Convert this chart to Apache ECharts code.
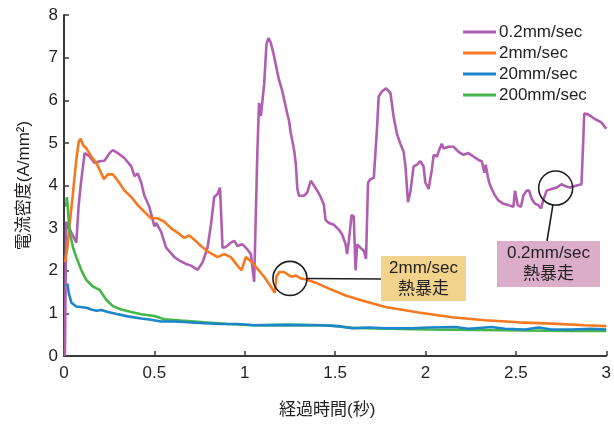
<!DOCTYPE html>
<html>
<head>
<meta charset="utf-8">
<script src="https://cdn.jsdelivr.net/npm/echarts@6/dist/echarts.min.js"></script>
<style>
  html, body { margin: 0; padding: 0; background: #fff; }
  #chart { width: 614px; height: 424px; }
</style>
</head>
<body>
<div id="chart"></div>
<script>
// 電流密度 vs 経過時間, [秒, A/mm2]
var seriesNames = ["0.2mm/sec", "2mm/sec", "20mm/sec", "200mm/sec"];

var speed02 = [
  [0.005, 0], [0.012, 3.15], [0.04, 2.9], [0.068, 2.66], [0.081, 3.53], [0.092, 3.99],
  [0.114, 4.76], [0.124, 4.8], [0.142, 4.68], [0.169, 4.53], [0.197, 4.57], [0.224, 4.58],
  [0.252, 4.76], [0.27, 4.83], [0.298, 4.76], [0.335, 4.64], [0.372, 4.45], [0.39, 4.22],
  [0.408, 4.28], [0.427, 4.07], [0.445, 3.76], [0.472, 3.5], [0.5, 3.04], [0.51, 3.12],
  [0.537, 2.92], [0.565, 2.54], [0.611, 2.32], [0.639, 2.24], [0.656, 2.2], [0.675, 2.16],
  [0.703, 2.12], [0.739, 2.02], [0.767, 2.2], [0.794, 2.54], [0.813, 3.08], [0.831, 3.73],
  [0.849, 3.8], [0.863, 3.95], [0.868, 3.46], [0.877, 2.54], [0.896, 2.56], [0.923, 2.66],
  [0.942, 2.7], [0.96, 2.58], [0.987, 2.62], [1.015, 2.5], [1.034, 2.39], [1.052, 1.74],
  [1.07, 4.83], [1.079, 5.94], [1.089, 5.63], [1.098, 5.67], [1.107, 6.36], [1.12, 7.31],
  [1.131, 7.46], [1.144, 7.35], [1.162, 7.04], [1.18, 6.66], [1.19, 6.47], [1.208, 6.21],
  [1.236, 5.67], [1.245, 5.52], [1.254, 5.25], [1.273, 4.83], [1.282, 4.53], [1.291, 3.92],
  [1.3, 3.76], [1.328, 3.76], [1.346, 3.84], [1.365, 4.11], [1.383, 4.0], [1.401, 3.88],
  [1.42, 3.73], [1.438, 3.54], [1.447, 3.19], [1.466, 3.12], [1.493, 3.08], [1.521, 2.96],
  [1.539, 2.85], [1.558, 2.62], [1.566, 2.39], [1.576, 2.7], [1.591, 3.31], [1.603, 3.27],
  [1.613, 2.01], [1.622, 2.62], [1.64, 2.54], [1.659, 2.47], [1.671, 2.28], [1.682, 4.07],
  [1.696, 4.15], [1.714, 4.18], [1.732, 5.37], [1.741, 6.09], [1.76, 6.21], [1.782, 6.28],
  [1.806, 6.17], [1.824, 5.6], [1.842, 5.21], [1.861, 4.98], [1.879, 4.79], [1.889, 4.45],
  [1.903, 3.61], [1.916, 3.84], [1.934, 4.45], [1.953, 4.49], [1.971, 4.57], [1.989, 4.45],
  [1.999, 4.07], [2.017, 3.92], [2.035, 4.37], [2.045, 4.72], [2.063, 4.68], [2.072, 4.79],
  [2.09, 4.98], [2.1, 4.87], [2.127, 4.91], [2.155, 4.91], [2.183, 4.79], [2.21, 4.72],
  [2.238, 4.76], [2.265, 4.68], [2.293, 4.6], [2.311, 4.57], [2.326, 4.3], [2.333, 4.49],
  [2.344, 4.22], [2.352, 4.07], [2.366, 3.92], [2.385, 3.76], [2.403, 3.65], [2.431, 3.57],
  [2.458, 3.54], [2.486, 3.5], [2.495, 3.88], [2.51, 3.54], [2.528, 3.5], [2.541, 3.76],
  [2.559, 3.88], [2.573, 3.88], [2.587, 3.69], [2.606, 3.57], [2.624, 3.54], [2.639, 3.46],
  [2.651, 3.65], [2.67, 3.88], [2.697, 3.92], [2.725, 3.95], [2.752, 4.03], [2.771, 3.99],
  [2.799, 3.95], [2.826, 3.99], [2.863, 4.03], [2.872, 4.98], [2.878, 5.69], [2.9, 5.67],
  [2.937, 5.56], [2.973, 5.48], [3.0, 5.33]
];

var speed2 = [
  [0.005, 2.2], [0.019, 2.54], [0.031, 3.08], [0.05, 3.84], [0.068, 4.6], [0.081, 5.02],
  [0.092, 5.1], [0.105, 4.95], [0.124, 4.87], [0.151, 4.68], [0.179, 4.53], [0.221, 4.15],
  [0.243, 4.26], [0.27, 4.26], [0.298, 4.11], [0.335, 3.88], [0.372, 3.73], [0.408, 3.54],
  [0.445, 3.38], [0.482, 3.23], [0.518, 3.23], [0.555, 3.15], [0.592, 3.0], [0.629, 2.89],
  [0.666, 2.77], [0.693, 2.83], [0.721, 2.73], [0.758, 2.58], [0.804, 2.43], [0.849, 2.32],
  [0.886, 2.39], [0.923, 2.32], [0.96, 2.12], [0.982, 2.01], [1.006, 2.32], [1.034, 2.22],
  [1.07, 2.05], [1.107, 1.86], [1.144, 1.63], [1.166, 1.48], [1.175, 1.86], [1.19, 1.97],
  [1.217, 1.97], [1.245, 1.89], [1.263, 1.86], [1.282, 1.89], [1.309, 1.82], [1.337, 1.8],
  [1.392, 1.72], [1.466, 1.58], [1.558, 1.42], [1.649, 1.3], [1.778, 1.15], [1.962, 1.02],
  [2.146, 0.91], [2.33, 0.84], [2.514, 0.79], [2.697, 0.76], [2.881, 0.72], [3.0, 0.7]
];

var speed20 = [
  [0.019, 1.7], [0.026, 1.48], [0.041, 1.25], [0.068, 1.16], [0.124, 1.13], [0.151, 1.09],
  [0.179, 1.06], [0.206, 1.08], [0.243, 1.03], [0.298, 0.98], [0.353, 0.93], [0.427, 0.88],
  [0.482, 0.85], [0.537, 0.81], [0.611, 0.81], [0.684, 0.79], [0.776, 0.77], [0.868, 0.75],
  [0.96, 0.75], [1.048, 0.72], [1.236, 0.73], [1.41, 0.72], [1.521, 0.7], [1.594, 0.65],
  [1.686, 0.67], [1.778, 0.65], [1.923, 0.65], [2.017, 0.67], [2.164, 0.68], [2.238, 0.64],
  [2.366, 0.68], [2.44, 0.64], [2.55, 0.62], [2.624, 0.67], [2.697, 0.62], [2.808, 0.62],
  [2.918, 0.64], [3.0, 0.62]
];

var speed200 = [
  [0.012, 3.5], [0.016, 3.73], [0.02, 3.54], [0.031, 2.92], [0.05, 2.54], [0.068, 2.32],
  [0.096, 2.01], [0.124, 1.78], [0.16, 1.63], [0.197, 1.55], [0.234, 1.32], [0.27, 1.17],
  [0.317, 1.09], [0.372, 1.03], [0.427, 0.98], [0.5, 0.94], [0.555, 0.86], [0.648, 0.83],
  [0.776, 0.79], [0.905, 0.75], [1.052, 0.72], [1.25, 0.73], [1.45, 0.72], [1.6, 0.66],
  [1.8, 0.64], [2.0, 0.62], [2.3, 0.61], [2.55, 0.6], [2.8, 0.59], [3.0, 0.59]
];

// 熱暴走 markers: circle centre (data coords) and callout text
var runawayAt = [[1.25, 1.82], [2.72, 3.94]];
var runawayText = ["2mm/sec\n熱暴走", "0.2mm/sec\n熱暴走"];

var colors = ["#b05eb0", "#f47920", "#1c86c9", "#45b649"];
var font = "'Liberation Sans', 'Noto Sans CJK JP', sans-serif";

var chart = echarts.init(document.getElementById("chart"));

function line(name, data, color, z) {
  return {
    name: name,
    type: "line",
    data: data,
    showSymbol: false,
    symbol: "none",
    z: z,
    lineStyle: { color: color, width: 2.6 },
    itemStyle: { color: color },
  };
}

var option = {
  animation: false,
  textStyle: { fontFamily: font },
  grid: { left: 64, right: 6, top: 15, bottom: 60 },
  legend: {
    orient: "vertical",
    left: 458,
    top: 18,
    icon: "rect",
    itemWidth: 33,
    itemHeight: 3,
    itemGap: 3,
    data: seriesNames,
    textStyle: { fontSize: 17, color: "#231f20", lineHeight: 18, padding: [0, 0, 0, -2] },
  },
  xAxis: {
    type: "value",
    min: 0,
    max: 3,
    interval: 0.5,
    name: "経過時間(秒)",
    nameLocation: "middle",
    nameGap: 46,
    nameTextStyle: { fontSize: 17, color: "#231f20", padding: [0, 16, 0, 0] },
    splitLine: { show: false },
    axisLine: { lineStyle: { color: "#3a3a3a", width: 2 } },
    axisTick: { inside: true, length: 5, lineStyle: { color: "#3a3a3a", width: 1.5 } },
    axisLabel: { fontSize: 17, color: "#231f20", margin: 9 },
  },
  yAxis: {
    type: "value",
    min: 0,
    max: 8,
    interval: 1,
    name: "電流密度(A/mm²)",
    nameLocation: "middle",
    nameGap: 31,
    nameTextStyle: { fontSize: 17, color: "#231f20", padding: [0, 0, 0, 0] },
    splitLine: { show: false },
    axisLine: { show: true, lineStyle: { color: "#3a3a3a", width: 2 } },
    axisTick: { show: true, inside: true, length: 5, lineStyle: { color: "#3a3a3a", width: 1.5 } },
    axisLabel: { fontSize: 17, color: "#231f20", margin: 6 },
  },
  series: [
    line(seriesNames[0], speed02, colors[0], 2),
    line(seriesNames[1], speed2, colors[1], 3),
    line(seriesNames[3], speed200, colors[3], 4),
    line(seriesNames[2], speed20, colors[2], 5),
  ],
};

chart.setOption(option);

// callouts: circle around the runaway point, leader line, coloured box
var boxes = [
  { x: 381, y: 256, w: 85, h: 45, fill: "#f2d38b" },
  { x: 497, y: 241, w: 103, h: 46, fill: "#dbadc9" },
];
var anchors = [
  [381, 279],
  [547, 241],
];
var r = 17;
var graphics = [];
runawayAt.forEach(function (pt, i) {
  var c = chart.convertToPixel({ gridIndex: 0 }, pt);
  var a = anchors[i];
  var dx = a[0] - c[0], dy = a[1] - c[1];
  var len = Math.sqrt(dx * dx + dy * dy);
  graphics.push({
    type: "circle",
    shape: { cx: c[0], cy: c[1], r: r },
    style: { fill: "none", stroke: "#231f20", lineWidth: 1.6 },
    z: 100,
  });
  graphics.push({
    type: "line",
    shape: { x1: c[0] + dx / len * r, y1: c[1] + dy / len * r, x2: a[0], y2: a[1] },
    style: { stroke: "#231f20", lineWidth: 1.6 },
    z: 100,
  });
  var b = boxes[i];
  graphics.push({
    type: "rect",
    shape: { x: b.x, y: b.y, width: b.w, height: b.h },
    style: { fill: b.fill },
    z: 100,
  });
  graphics.push({
    type: "text",
    x: b.x + b.w / 2,
    y: b.y + b.h / 2,
    style: {
      text: runawayText[i],
      fill: "#231f20",
      font: "17px " + font,
      align: "center",
      verticalAlign: "middle",
      lineHeight: 21,
    },
    z: 101,
  });
});
chart.setOption({ graphic: graphics });
</script>
</body>
</html>
